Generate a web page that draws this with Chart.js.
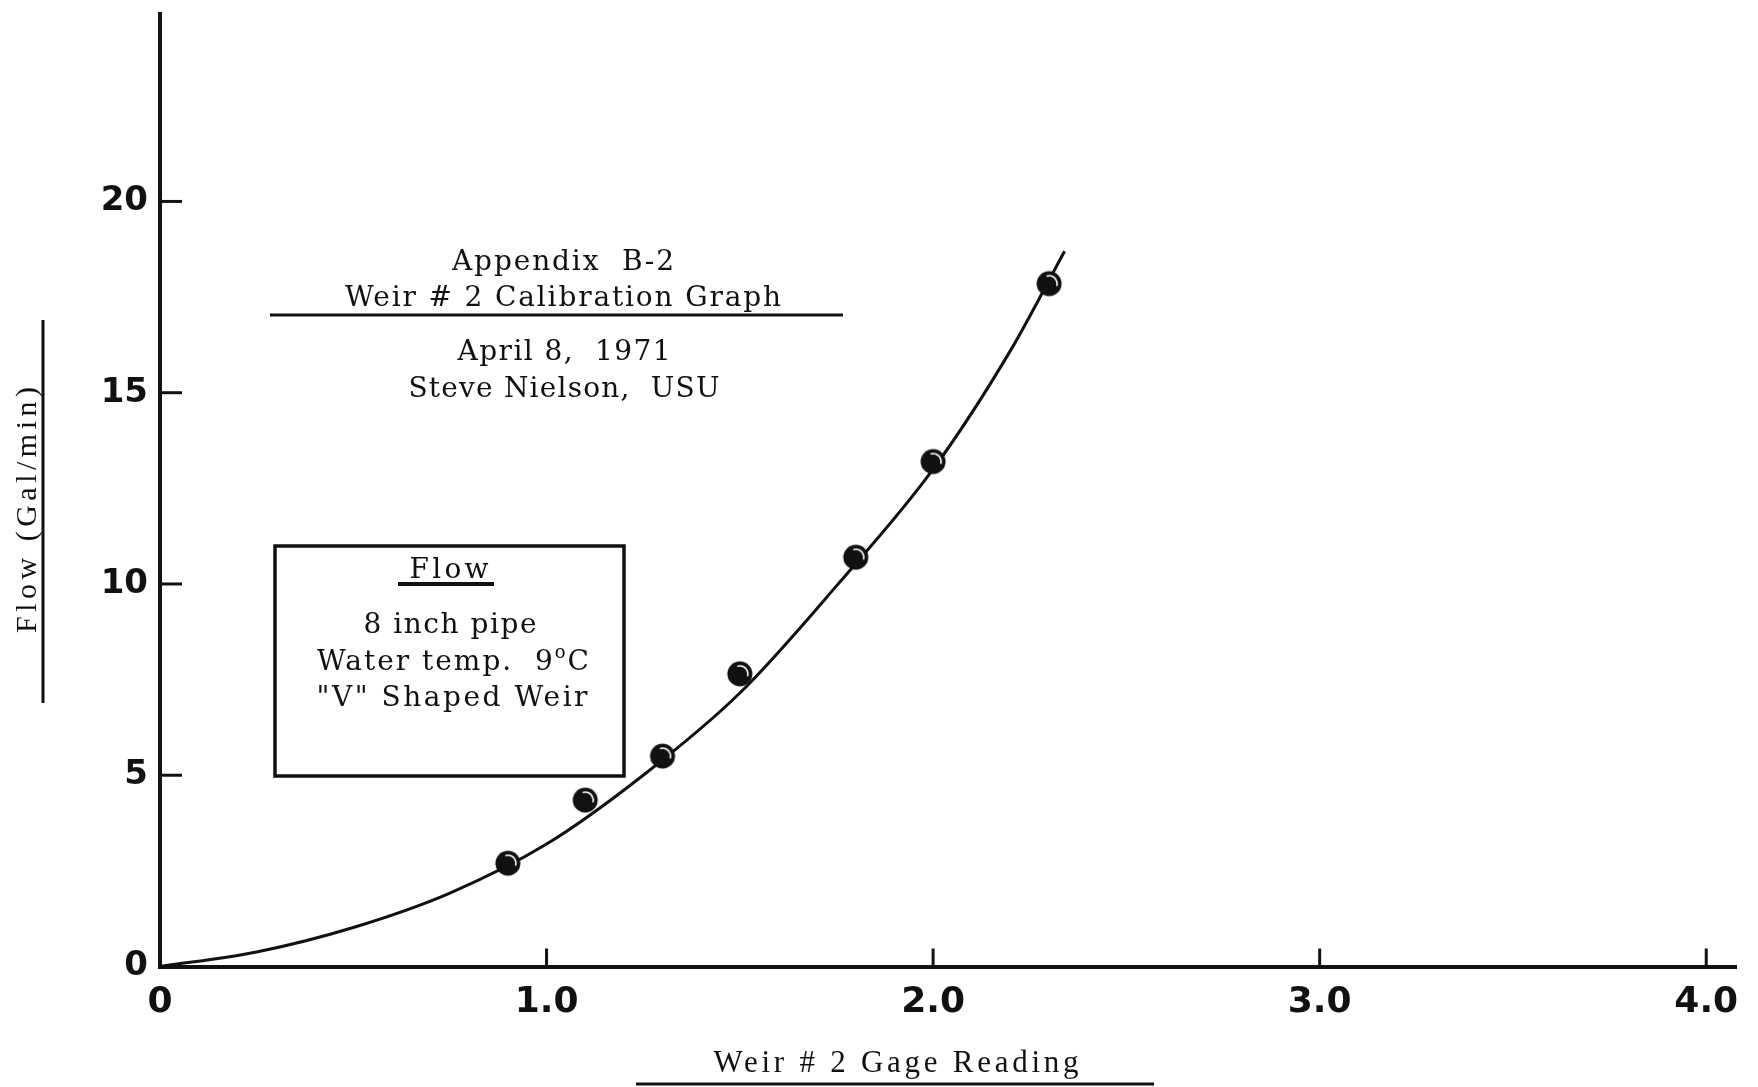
<!DOCTYPE html>
<html>
<head>
<meta charset="utf-8">
<script src="https://cdn.jsdelivr.net/npm/chart.js@4.4.1/dist/chart.umd.min.js"></script>
<style>
  html, body { margin: 0; padding: 0; background: #fff; }
  canvas { display: block; }
</style>
</head>
<body>
<canvas id="weir" width="1758" height="1087"></canvas>
<script>
// Measured calibration points: gage reading vs. flow (Gal/min)
const gageReading  = [0.9, 1.1, 1.3, 1.5, 1.8, 2.0, 2.3];
const measuredFlow = [2.7, 4.35, 5.5, 7.65, 10.7, 13.2, 17.85];

// Smooth calibration curve drawn through the measurements
const curveReading = [0, 0.25, 0.5, 0.75, 1.0, 1.25, 1.5, 1.75, 2.0, 2.2, 2.34];
const curveFlow    = [0, 0.38, 1.02, 1.92, 3.2, 5.0, 7.15, 9.95, 13.0, 16.1, 18.7];

// Axis ticks
const xTickValues = [0, 1, 2, 3, 4];
const xTickLabels = ['0', '1.0', '2.0', '3.0', '4.0'];
const yTickValues = [0, 5, 10, 15, 20];
const yTickLabels = ['0', '5', '10', '15', '20'];

// Text blocks
const headerLines = ['Appendix  B-2', 'Weir # 2 Calibration Graph', 'April 8,  1971', 'Steve Nielson,  USU'];
const noteTitle = 'Flow';
const noteLines = ['8 inch pipe', 'Water temp.  9', '"V" Shaped Weir'];
const xTitle = 'Weir # 2 Gage Reading';
const yTitle = 'Flow (Gal/min)';

const INK = '#111';
const SERIF = '"DejaVu Serif", "Liberation Serif", serif';
const NARROW_SERIF = '"Liberation Serif", "DejaVu Serif", serif';

// Plot marker: solid dot with a faint highlight arc
function makeDot() {
  const c = document.createElement('canvas');
  c.width = 30; c.height = 30;
  const g = c.getContext('2d');
  g.fillStyle = INK;
  g.beginPath(); g.arc(15, 15, 12.5, 0, Math.PI * 2); g.fill();
  g.strokeStyle = '#fff';
  g.lineWidth = 1.6;
  g.beginPath(); g.arc(15, 15, 8, -1.9, 0.3); g.stroke();
  return c;
}

// Draw text centred on cx, spread to a given width with letter spacing
function spaced(ctx, text, cx, y, width, font) {
  ctx.font = font;
  ctx.letterSpacing = '0px';
  const w = ctx.measureText(text).width;
  const n = [...text].length;
  const ls = n > 1 ? (width - w) / (n - 1) : 0;
  ctx.letterSpacing = ls + 'px';
  ctx.textAlign = 'left';
  ctx.fillText(text, cx - width / 2, y);
  ctx.letterSpacing = '0px';
  return ls;
}

function hline(ctx, x1, x2, y, w) {
  ctx.lineWidth = w;
  ctx.beginPath(); ctx.moveTo(x1, y); ctx.lineTo(x2, y); ctx.stroke();
}

const decorations = {
  id: 'decorations',
  afterDraw(chart) {
    const ctx = chart.ctx;
    const xs = chart.scales.x, ys = chart.scales.y;
    ctx.save();
    ctx.strokeStyle = INK;
    ctx.fillStyle = INK;
    ctx.lineCap = 'butt';

    // Inward tick marks
    ctx.lineWidth = 3;
    xTickValues.forEach(v => {
      if (v === 0) return;
      const px = xs.getPixelForValue(v);
      ctx.beginPath(); ctx.moveTo(px, ys.bottom); ctx.lineTo(px, ys.bottom - 18); ctx.stroke();
    });
    yTickValues.forEach(v => {
      if (v === 0) return;
      const py = ys.getPixelForValue(v);
      ctx.beginPath(); ctx.moveTo(xs.left, py); ctx.lineTo(xs.left + 22, py); ctx.stroke();
    });

    ctx.textBaseline = 'alphabetic';
    const f = '28px ' + SERIF;

    // Heading
    spaced(ctx, headerLines[0], 563, 270, 222, f);
    spaced(ctx, headerLines[1], 563, 306, 436, f);
    hline(ctx, 270, 843, 315, 3);
    spaced(ctx, headerLines[2], 564, 360, 213, f);
    spaced(ctx, headerLines[3], 564, 397, 311, f);

    // Note box
    ctx.lineWidth = 3.5;
    ctx.strokeRect(275, 546, 349, 230);
    spaced(ctx, noteTitle, 449, 578, 79, f);
    hline(ctx, 398, 494, 584, 4);
    spaced(ctx, noteLines[0], 450, 633, 173, f);
    // "Water temp. 9°C" with a raised small o
    {
      const total = 272, left = 317;
      ctx.font = f; ctx.letterSpacing = '0px';
      const wa = ctx.measureText(noteLines[1]).width;
      const wc = ctx.measureText('C').width;
      ctx.font = '18px ' + SERIF;
      const wo = ctx.measureText('o').width;
      const na = [...noteLines[1]].length;
      const ls = (total - wa - wc - wo) / (na + 1);
      let x = left;
      ctx.font = f; ctx.letterSpacing = ls + 'px';
      ctx.fillText(noteLines[1], x, 670);
      x += wa + ls * na;
      ctx.font = '18px ' + SERIF;
      ctx.fillText('o', x, 658);
      x += wo + ls;
      ctx.font = f;
      ctx.fillText('C', x, 670);
      ctx.letterSpacing = '0px';
    }
    spaced(ctx, noteLines[2], 452, 706, 271, f);

    // Axis titles with rules
    spaced(ctx, xTitle, 896, 1072, 365, '31px ' + NARROW_SERIF);
    hline(ctx, 636, 1154, 1084, 3);

    ctx.save();
    ctx.translate(36, 510);
    ctx.rotate(-Math.PI / 2);
    spaced(ctx, yTitle, 0, 0, 246, '30px ' + NARROW_SERIF);
    ctx.restore();
    ctx.lineWidth = 3;
    ctx.beginPath(); ctx.moveTo(43, 320); ctx.lineTo(43, 703); ctx.stroke();

    ctx.restore();
  }
};

new Chart(document.getElementById('weir'), {
  type: 'scatter',
  data: {
    datasets: [
      {
        label: 'Measured',
        data: gageReading.map((x, i) => ({ x, y: measuredFlow[i] })),
        pointStyle: makeDot(),
        pointRadius: 13,
        showLine: false,
        order: 0
      },
      {
        label: 'Calibration curve',
        data: curveReading.map((x, i) => ({ x, y: curveFlow[i] })),
        showLine: true,
        borderColor: INK,
        borderWidth: 3,
        pointRadius: 0,
        cubicInterpolationMode: 'monotone',
        order: 1
      }
    ]
  },
  options: {
    responsive: false,
    animation: false,
    devicePixelRatio: 1,
    clip: false,
    layout: { padding: { left: 0, right: 22, top: 9, bottom: 0 } },
    plugins: { legend: { display: false }, tooltip: { enabled: false } },
    scales: {
      x: {
        type: 'linear',
        min: 0,
        max: 4.077,
        afterBuildTicks: s => { s.ticks = xTickValues.map(v => ({ value: v })); },
        afterFit: s => { s.height = 120.5; s.paddingLeft = 0; s.paddingRight = 0; },
        grid: { display: false, drawTicks: false },
        border: { display: true, color: INK, width: 4 },
        ticks: {
          autoSkip: false,
          maxRotation: 0,
          padding: 15,
          color: INK,
          font: { family: '"DejaVu Sans", sans-serif', size: 36, weight: 'bold' },
          callback: v => xTickLabels[xTickValues.indexOf(v)]
        }
      },
      y: {
        type: 'linear',
        min: 0,
        max: 24.9,
        afterBuildTicks: s => { s.ticks = yTickValues.map(v => ({ value: v })); },
        afterFit: s => { s.width = 160; s.paddingTop = 0; s.paddingBottom = 0; },
        grid: { display: false, drawTicks: false },
        border: { display: true, color: INK, width: 4 },
        ticks: {
          autoSkip: false,
          padding: 12,
          color: INK,
          font: { family: '"DejaVu Sans", sans-serif', size: 34, weight: 'bold' },
          callback: v => yTickLabels[yTickValues.indexOf(v)]
        }
      }
    }
  },
  plugins: [decorations]
});
</script>
</body>
</html>
